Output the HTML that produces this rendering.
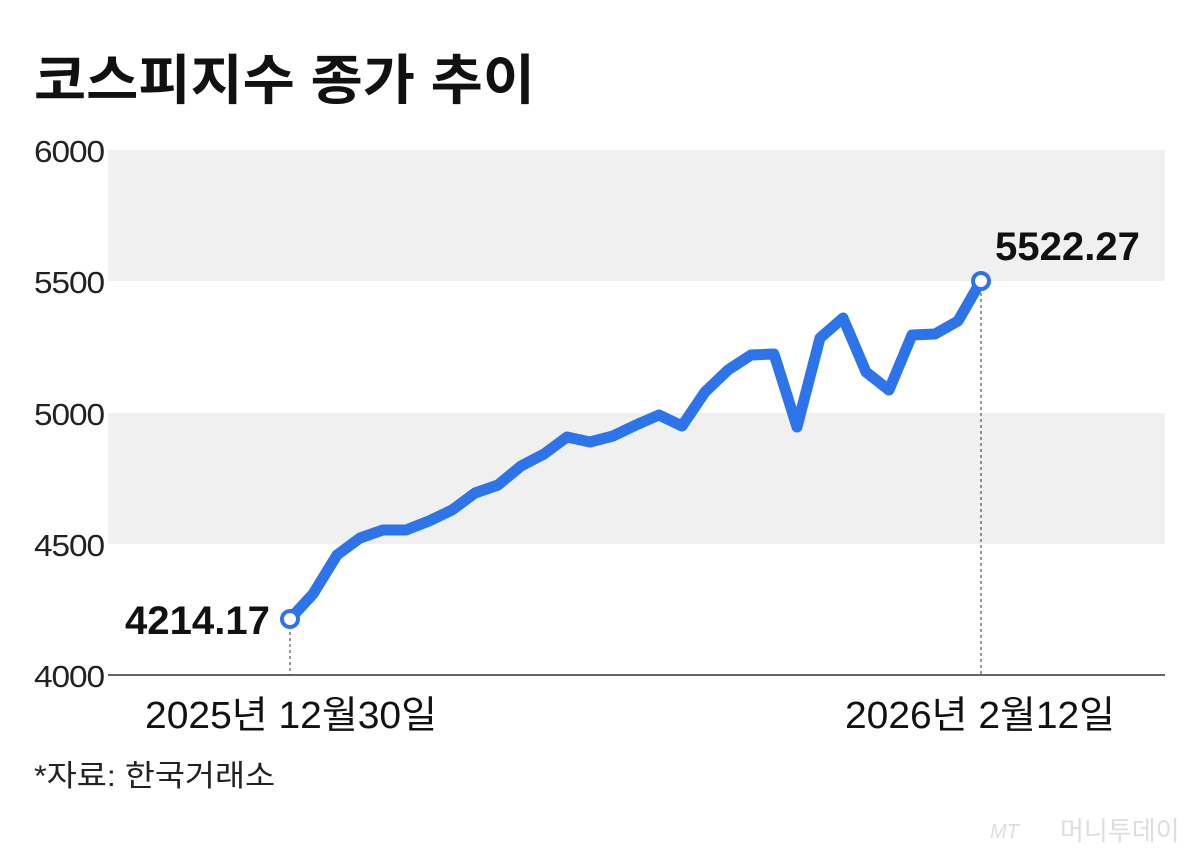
<!DOCTYPE html>
<html><head><meta charset="utf-8"><style>
body{margin:0;background:#fff;width:1200px;height:854px;overflow:hidden}
svg{display:block}
text{font-family:"Liberation Sans","Noto Sans CJK KR",sans-serif}
</style></head><body>
<svg width="1200" height="854" viewBox="0 0 1200 854">
<rect x="108" y="150" width="1057" height="131" fill="#f0f0f0"/>
<rect x="108" y="413" width="1057" height="131" fill="#f0f0f0"/>
<line x1="108" y1="675" x2="1165" y2="675" stroke="#333" stroke-width="1.5"/>
<text x="34" y="99" font-size="54" font-weight="bold" fill="#111" letter-spacing="0" textLength="501" lengthAdjust="spacingAndGlyphs">코스피지수 종가 추이</text>
<g font-size="31" fill="#222" letter-spacing="-1">
<text x="34" y="162" textLength="70" lengthAdjust="spacingAndGlyphs">6000</text>
<text x="34" y="293" textLength="70" lengthAdjust="spacingAndGlyphs">5500</text>
<text x="34" y="425" textLength="70" lengthAdjust="spacingAndGlyphs">5000</text>
<text x="34" y="556" textLength="70" lengthAdjust="spacingAndGlyphs">4500</text>
<text x="34" y="687" textLength="70" lengthAdjust="spacingAndGlyphs">4000</text>
</g>
<line x1="290" y1="632" x2="290" y2="675" stroke="#333" stroke-width="1" stroke-dasharray="3,3"/>
<line x1="981" y1="293" x2="981" y2="675" stroke="#333" stroke-width="1" stroke-dasharray="3,3"/>
<polyline fill="none" stroke="#2d74ea" stroke-width="11" stroke-linejoin="round" stroke-linecap="round" points="290,619 313,594 337,555 360,538 383,530 406,530 429,521 452,510 475,493 498,485 521,466 544,454 567,437 590,442 613,436 636,425 659,415 682,426 705,392 728,370 751,355 774,354 797,427 820,338 843,318 866,372 889,390 912,335 935,334 958,321 981,281"/>
<circle cx="290" cy="619" r="8" fill="#fff" stroke="#2d74ea" stroke-width="4"/>
<circle cx="981" cy="281" r="8" fill="#fff" stroke="#2d74ea" stroke-width="4"/>
<text x="125" y="634" font-size="40" font-weight="bold" fill="#111" textLength="145" lengthAdjust="spacingAndGlyphs">4214.17</text>
<text x="995" y="260" font-size="40" font-weight="bold" fill="#111" textLength="145" lengthAdjust="spacingAndGlyphs">5522.27</text>
<text x="145" y="728" font-size="38" fill="#111" textLength="292" lengthAdjust="spacingAndGlyphs">2025년 12월30일</text>
<text x="845" y="728" font-size="38" fill="#111" textLength="270" lengthAdjust="spacingAndGlyphs">2026년 2월12일</text>
<text x="34" y="786" font-size="30" fill="#222" textLength="241" lengthAdjust="spacingAndGlyphs">*자료: 한국거래소</text>
<text x="990" y="838" font-size="20" fill="#ddd" font-style="italic">MT</text>
<text x="1060" y="840" font-size="26" fill="#ddd">머니투데이</text>
</svg>
</body></html>
